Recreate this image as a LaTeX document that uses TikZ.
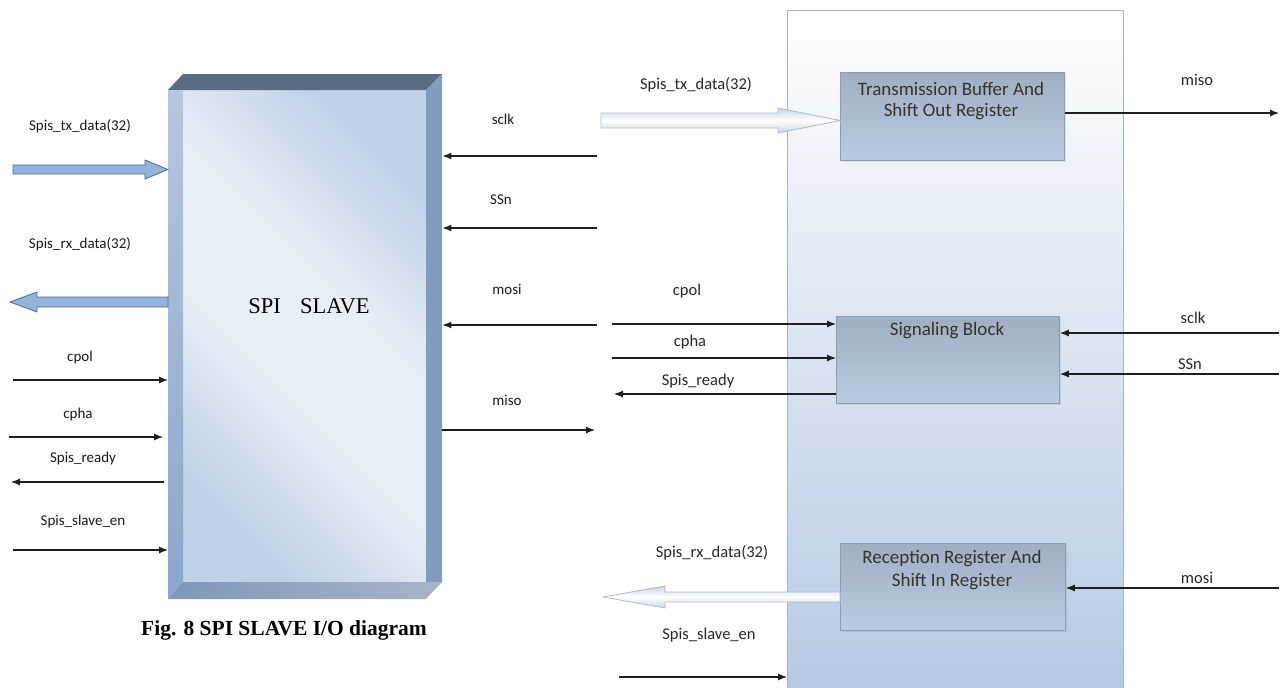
\documentclass[tikz,border=0pt]{standalone}
\usepackage{fontspec}
\setmainfont{Liberation Serif}
\newfontfamily\calib{Carlito}
\usetikzlibrary{arrows.meta,calc,shadows}
\definecolor{topb}{HTML}{5B6B82}
\definecolor{rightb}{HTML}{849CBB}
\definecolor{leftbT}{HTML}{B6C6DD}
\definecolor{leftbB}{HTML}{8AA6CC}
\definecolor{botL}{HTML}{7F97BA}
\definecolor{botR}{HTML}{A9B4C6}
\definecolor{faceL}{HTML}{E9EFF7}
\definecolor{faceD}{HTML}{BFD1E8}
\definecolor{arrfill}{HTML}{93B3DB}
\definecolor{arrdraw}{HTML}{4F6B8F}
\definecolor{bigbot}{HTML}{B6CAE4}
\definecolor{bigdraw}{HTML}{A3B4CA}
\definecolor{boxtop}{HTML}{A0AEC1}
\definecolor{boxbot}{HTML}{BACBE1}
\definecolor{boxdraw}{HTML}{8D9EB4}
\definecolor{hollowedge}{HTML}{AFBCCC}
\definecolor{hollowfill}{HTML}{C6D5E8}
\pgfdeclarehorizontalshading{faceshading}{100bp}{color(0bp)=(faceD); color(25bp)=(faceD); color(43bp)=(faceL); color(57bp)=(faceL); color(75bp)=(faceD); color(100bp)=(faceD)}
\begin{document}
\begin{tikzpicture}[x=1pt,y=-1pt,
  sig/.style={draw=black!88, line width=1.1pt, -{Latex[length=9pt,width=7pt]}},
  lbl/.style={font=\calib\fontsize{15}{18}\selectfont, inner sep=0pt, text=black!90},
  rlbl/.style={font=\calib\fontsize{16.5}{20}\selectfont, inner sep=0pt, text=black!85},
  btxt/.style={font=\calib\fontsize{19}{23}\selectfont, inner sep=0pt, text=black!80},
  subbox/.style={draw=boxdraw, line width=0.8pt, top color=boxtop, bottom color=boxbot,
     drop shadow={opacity=0.18, shadow xshift=2pt, shadow yshift=-2pt}, anchor=north west, inner sep=0pt},
  solidarrow/.style={fill=arrfill, draw=arrdraw, line width=0.8pt},
  hollowarrow/.style={draw=hollowedge, line width=0.8pt, top color=hollowfill, bottom color=hollowfill, middle color=white},
]
\useasboundingbox (0,0) rectangle (1285,688);

% ---------------- left: SPI SLAVE block ----------------
\node[minimum width=274pt, minimum height=525pt, anchor=north west, inner sep=0pt] (slave) at (168,74) {};
\shade[shading=faceshading, shading angle=45] (183,90) rectangle (426,582);
\fill[topb] (168,90) -- (183,74) -- (442,74) -- (426,90) -- cycle;
\shade[top color=leftbT, bottom color=leftbB] (168,90) -- (183,90) -- (183,582) -- (168,599) -- cycle;
\fill[rightb] (426,90) -- (442,74) -- (442,582) -- (426,582) -- cycle;
\shade[left color=botL, right color=botR] (168,599) -- (183,582) -- (442,582) -- (426,599) -- cycle;
\node[font=\fontsize{22.5}{26}\selectfont] (slavetxt) at (309,306) {SPI\hspace{0.85em}SLAVE};

% block arrows
\filldraw[solidarrow] (13,165) -- (145,165) -- (145,160) -- (168,169.5) -- (145,179) -- (145,174) -- (13,174) -- cycle;
\filldraw[solidarrow] (168,297) -- (37,297) -- (37,292) -- (10,302) -- (37,312) -- (37,307) -- (168,307) -- cycle;

\node[lbl] (l_tx) at (80,126) {Spis\_tx\_data(32)};
\node[lbl] (l_rx) at (80,244) {Spis\_rx\_data(32)};
\node[lbl] (l_cpol) at (80,357) {cpol};
\node[lbl] (l_cpha) at (78,414) {cpha};
\node[lbl] (l_ready) at (83,458) {Spis\_ready};
\node[lbl] (l_en) at (83,521) {Spis\_slave\_en};

\coordinate (a_cpol) at (13,380);
\coordinate (a_cpha) at (9,437);
\coordinate (a_ready) at (11,482);
\coordinate (a_en) at (13,550);
\draw[sig] (a_cpol) -- (a_cpol -| slave.west);
\draw[sig] (a_cpha) -- ($(a_cpha -| slave.west)+(-5,0)$);
\draw[sig] ($(a_ready -| slave.west)+(-4,0)$) -- (a_ready);
\draw[sig] (a_en) -- (a_en -| slave.west);

\node[lbl] (m_sclk) at (503,119) {sclk};
\node[lbl] (m_ssn) at (501,200) {SSn};
\node[lbl] (m_mosi) at (507,289) {mosi};
\node[lbl] (m_miso) at (507,400) {miso};
\coordinate (b_sclk) at (597,156);
\coordinate (b_ssn) at (597,228);
\coordinate (b_mosi) at (597,325);
\coordinate (b_miso) at (595,430);
\draw[sig] (b_sclk) -- (b_sclk -| slave.east);
\draw[sig] (b_ssn) -- (b_ssn -| slave.east);
\draw[sig] (b_mosi) -- (b_mosi -| slave.east);
\draw[sig] (b_miso -| slave.east) -- (b_miso);

\node[font=\bfseries\fontsize{21.5}{25}\selectfont] (cap) at (284,630) {Fig. 8 SPI SLAVE I/O diagram};

% ---------------- right: internal structure ----------------
\node[draw=bigdraw, line width=1pt, top color=white, bottom color=bigbot, minimum width=336pt, minimum height=678pt, anchor=north west, inner sep=0pt] (big) at (787,10) {};

\node[subbox, minimum width=224pt, minimum height=88pt] (tb) at (840,72) {};
\node[subbox, minimum width=223pt, minimum height=87pt] (sb) at (836,316) {};
\node[subbox, minimum width=225pt, minimum height=87pt] (rb) at (840,543) {};

\node[btxt] (tb1) at (951,89) {Transmission Buffer And};
\node[btxt] (tb2) at (951,112) {Shift Out Register};
\node[btxt] (sb1) at (947,331) {Signaling Block};
\node[btxt] (rb1) at (952,559) {Reception Register And};
\node[btxt] (rb2) at (952,582) {Shift In Register};

% hollow block arrows
\shade[hollowarrow] (601,113) -- (778,113) -- (778,108) -- (tb.west |- 0,120.5) -- (778,133) -- (778,128) -- (601,128) -- cycle;
\shade[hollowarrow] (rb.west |- 0,592) -- (665,592) -- (665,586) -- (603,597) -- (665,608) -- (665,602) -- (rb.west |- 0,602) -- cycle;

\node[rlbl] (r_tx) at (696,85) {Spis\_tx\_data(32)};
\node[rlbl] (r_miso) at (1197,80) {miso};
\node[rlbl] (r_cpol) at (687,291) {cpol};
\node[rlbl] (r_cpha) at (690,342) {cpha};
\node[rlbl] (r_ready) at (698,381) {Spis\_ready};
\node[rlbl] (r_sclk) at (1193,318) {sclk};
\node[rlbl] (r_ssn) at (1190,364) {SSn};
\node[rlbl] (r_rx) at (712,553) {Spis\_rx\_data(32)};
\node[rlbl] (r_mosi) at (1197,578) {mosi};
\node[rlbl] (r_en) at (709,635) {Spis\_slave\_en};

\coordinate (c_miso) at (1279,113);
\coordinate (c_cpol) at (612,324);
\coordinate (c_cpha) at (612,358);
\coordinate (c_ready) at (614,394);
\coordinate (c_sclk) at (1279,333);
\coordinate (c_ssn) at (1279,374);
\coordinate (c_mosi) at (1279,588);
\coordinate (c_en) at (619,677);
\draw[sig] (c_miso -| tb.east) -- (c_miso);
\draw[sig] (c_cpol) -- (c_cpol -| sb.west);
\draw[sig] (c_cpha) -- (c_cpha -| sb.west);
\draw[sig] (c_ready -| sb.west) -- (c_ready);
\draw[sig] (c_sclk) -- (c_sclk -| sb.east);
\draw[sig] (c_ssn) -- (c_ssn -| sb.east);
\draw[sig] (c_mosi) -- (c_mosi -| rb.east);
\draw[sig] (c_en) -- (c_en -| big.west);
\end{tikzpicture}
\end{document}
